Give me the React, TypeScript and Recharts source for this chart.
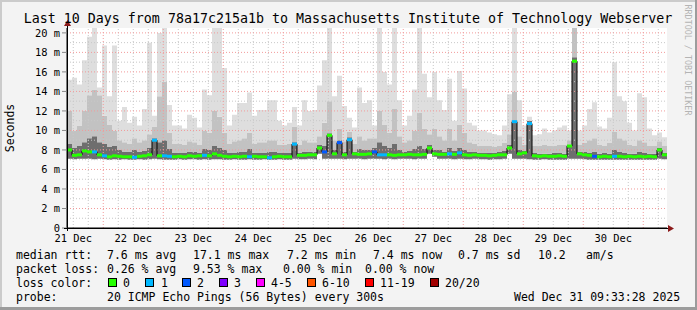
import {
  ComposedChart,
  Area,
  Line,
  Scatter,
  XAxis,
  YAxis,
  CartesianGrid,
  ReferenceLine,
} from "recharts";

// time axis in hours since 21 Dec 00:00, one bucket = 2h
const START_HOUR = 9.5;
const STEP_HOURS = 2;

const dayLabels = ["21 Dec", "22 Dec", "23 Dec", "24 Dec", "25 Dec", "26 Dec", "27 Dec", "28 Dec", "29 Dec", "30 Dec"];
const dayTicks = [12, 36, 60, 84, 108, 132, 156, 180, 204, 228];
const midnights = [24, 48, 72, 96, 120, 144, 168, 192, 216, 240];
const sixHourLines = [12, 18, 30, 36, 42, 54, 60, 66, 78, 84, 90, 102, 108, 114, 126, 132, 138, 150, 156, 162, 174, 180, 186, 198, 204, 210, 222, 228, 234, 246];
const yTicks = [0, 2, 4, 6, 8, 10, 12, 14, 16, 18, 20];
const yMinor = [1, 3, 5, 7, 9, 11, 13, 15, 17, 19];

// smoke: lower edge, dark band top, mid band top, max (ms)
const smokeLow = [
  7.1, 7.05, 7.1, 7.1, 7.1, 7.05, 7.1, 7.05, 7.0, 7.05,
  7.0, 7.05, 7.0, 7.0, 7.05, 7.0, 7.05, 7.1, 7.05, 7.0,
  7.0, 7.0, 7.05, 7.0, 7.05, 7.05, 7.0, 7.05, 7.0, 7.05,
  7.05, 7.0, 7.0, 7.05, 7.0, 7.0, 7.05, 7.0, 7.0, 7.05,
  7.0, 7.0, 7.05, 7.0, 7.0, 7.1, 7.05, 7.05, 7.1, 7.05,
  7.6, 7.1, 7.1, 7.1, 7.1, 7.05, 7.1, 7.1, 7.1, 7.05,
  7.1, 7.1, 7.1, 7.05, 7.1, 7.05, 7.1, 7.1, 7.1, 7.05,
  7.1, 7.1, 7.6, 7.3, 7.1, 7.1, 7.1, 7.05, 7.1, 7.05,
  7.05, 7.1, 7.05, 7.05, 7.0, 7.05, 7.05, 7.1, 7.6, 7.1,
  7.1, 7.1, 7.05, 7.0, 7.0, 7.05, 7.0, 7.0, 7.0, 7.0,
  7.1, 7.1, 7.1, 7.05, 7.0, 7.0, 7.0, 7.0, 7.0, 7.0,
  7.0, 7.0, 7.0, 7.0, 7.0, 7.0, 7.0, 7.0, 7.1, 7.05,
];
const smokeDark = [
  8.6, 8.2, 8.4, 8.8, 9.2, 9.4, 8.8, 8.6, 8.3, 8.4,
  8.0, 7.8, 7.8, 8.0, 7.8, 7.9, 8.2, 9.2, 8.8, 9.0,
  8.1, 7.7, 7.7, 7.7, 7.8, 7.8, 7.7, 8.1, 8.0, 8.4,
  8.2, 8.0, 7.7, 7.7, 7.8, 7.8, 8.1, 7.7, 7.7, 7.7,
  7.8, 7.8, 7.7, 7.7, 7.7, 8.8, 7.7, 7.8, 7.8, 7.8,
  8.5, 8.4, 9.7, 8.0, 9.0, 7.8, 9.3, 7.8, 8.1, 8.0,
  8.0, 8.2, 8.8, 8.4, 8.2, 8.6, 8.0, 7.8, 7.9, 8.1,
  8.4, 8.1, 8.5, 8.0, 8.0, 7.8, 8.2, 7.9, 8.2, 8.0,
  7.8, 7.8, 7.7, 7.7, 7.7, 7.7, 7.8, 7.9, 8.5, 11.0,
  8.0, 7.9, 11.0, 7.7, 7.6, 7.6, 7.6, 7.7, 7.7, 7.6,
  8.5, 17.5, 7.8, 7.8, 7.7, 7.8, 7.6, 7.7, 7.6, 8.0,
  7.8, 7.7, 7.6, 7.6, 7.8, 7.7, 7.6, 7.6, 8.2, 7.7,
];
const smokeMid = [
  12.0, 10.0, 10.5, 12.0, 13.6, 14.2, 13.6, 11.5, 10.6, 10.0,
  9.0, 8.8, 8.6, 9.2, 8.8, 9.0, 9.6, 10.4, 13.5, 15.0,
  9.8, 8.6, 8.6, 8.5, 8.9, 8.8, 8.5, 10.0, 9.8, 12.0,
  11.4, 9.8, 8.6, 8.9, 9.0, 9.2, 9.8, 8.6, 8.8, 8.8,
  9.0, 9.0, 8.5, 8.5, 8.6, 10.4, 8.5, 9.0, 8.8, 8.8,
  9.4, 10.8, 13.0, 9.0, 10.2, 8.9, 9.9, 8.6, 9.4, 9.0,
  9.2, 9.2, 12.0, 10.6, 9.8, 12.2, 9.4, 8.8, 9.0, 10.0,
  11.8, 10.2, 9.6, 10.2, 9.4, 9.0, 10.2, 9.0, 10.6, 9.8,
  8.8, 8.6, 8.4, 8.4, 8.4, 8.3, 8.4, 8.7, 9.6, 14.0,
  9.4, 8.5, 10.8, 8.4, 8.4, 8.5, 8.4, 8.4, 8.5, 8.5,
  9.0, 20.6, 8.5, 8.7, 9.0, 9.2, 8.5, 8.4, 8.7, 9.9,
  9.2, 9.0, 8.5, 8.4, 9.0, 8.8, 8.4, 8.4, 8.9, 8.4,
];
const smokeMax = [
  15.2, 15.4, 14.7, 17.2, 19.6, 20.6, 14.4, 18.7, 13.5, 18.7,
  11.0, 12.4, 10.8, 11.4, 10.5, 12.2, 19.0, 11.5, 20.0, 20.6,
  12.6, 10.5, 10.5, 10.2, 11.6, 11.3, 10.3, 14.2, 13.6, 20.6,
  20.6, 16.4, 10.5, 11.6, 12.8, 12.8, 13.9, 11.5, 12.1, 12.1,
  13.1, 13.1, 11.0, 10.5, 10.8, 12.4, 10.5, 13.1, 12.0, 12.1,
  14.6, 17.2, 20.6, 13.5, 15.6, 12.5, 11.3, 10.3, 14.4, 12.8,
  13.1, 10.5, 20.6, 16.0, 14.7, 20.6, 13.1, 10.5, 11.5, 14.2,
  20.6, 15.8, 13.4, 16.0, 13.1, 12.1, 15.3, 11.0, 16.1, 14.3,
  10.8, 10.5, 10.0, 10.0, 9.8, 9.6, 9.5, 10.5, 13.7, 20.6,
  13.1, 10.5, 11.2, 9.5, 9.6, 10.2, 9.8, 10.0, 10.3, 10.5,
  10.0, 20.6, 10.0, 10.5, 12.2, 12.9, 10.4, 10.2, 11.3, 17.0,
  13.5, 13.0, 10.8, 10.0, 13.8, 13.4, 10.2, 9.5, 9.8, 9.3,
];
const medianRtt = [
  8.0, 7.45, 7.5, 7.9, 7.8, 7.8, 7.5, 7.4, 7.3, 7.4,
  7.35, 7.3, 7.3, 7.25, 7.35, 7.4, 7.5, 9.0, 7.4, 7.4,
  7.35, 7.3, 7.35, 7.3, 7.4, 7.35, 7.4, 7.45, 7.4, 7.6,
  7.45, 7.35, 7.3, 7.35, 7.3, 7.35, 7.3, 7.35, 7.3, 7.3,
  7.2, 7.3, 7.35, 7.3, 7.3, 8.6, 7.45, 7.45, 7.5, 7.5,
  8.2, 7.8, 9.5, 7.6, 8.75, 7.5, 9.05, 7.6, 7.55, 7.55,
  7.6, 7.8, 7.5, 7.5, 7.5, 7.45, 7.5, 7.5, 7.55, 7.5,
  7.5, 7.55, 8.2, 7.6, 7.55, 7.55, 7.6, 7.55, 7.7, 7.5,
  7.45, 7.5, 7.45, 7.45, 7.4, 7.45, 7.5, 7.5, 8.2, 10.9,
  7.6, 7.7, 10.7, 7.4, 7.35, 7.4, 7.35, 7.35, 7.4, 7.35,
  8.4, 17.1, 7.6, 7.5, 7.45, 7.35, 7.3, 7.35, 7.3, 7.35,
  7.35, 7.3, 7.35, 7.3, 7.35, 7.3, 7.35, 7.3, 8.0, 7.5,
];
// index into lossColors
const lossBucket = [
  0, 0, 0, 0, 0, 1, 0, 1, 0, 0, 0, 0, 0, 1, 0, 0, 0, 1, 0, 1,
  1, 0, 0, 0, 0, 0, 0, 1, 0, 0, 0, 0, 0, 0, 0, 0, 1, 0, 0, 0,
  1, 0, 0, 0, 0, 1, 0, 0, 0, 0, 0, 2, 0, 0, 2, 0, 1, 0, 0, 0,
  0, 2, 1, 1, 0, 0, 0, 0, 0, 0, 0, 0, 0, 0, 0, 0, 1, 0, 1, 0,
  0, 0, 0, 0, 0, 0, 0, 0, 0, 1, 0, 0, 1, 0, 0, 0, 0, 0, 0, 0,
  0, 0, 0, 0, 0, 2, 0, 0, 0, 1, 0, 0, 0, 0, 0, 0, 0, 0, 0, 0,
];
const lossColors = ["#26ff00", "#00b8ff", "#0059ff", "#7e00ff", "#ff00ff", "#ff5500", "#ff0000", "#a10000"];
const lossLabels = ["0", "1", "2", "3", "4-5", "6-10", "11-19", "20/20"];

const rows = medianRtt.map((m, i) => ({
  t: START_HOUR + i * STEP_HOURS,
  base: smokeLow[i],
  dark: Math.max(0, smokeDark[i] - smokeLow[i]),
  mid: Math.max(0, smokeMid[i] - smokeDark[i]),
  light: Math.max(0, smokeMax[i] - smokeMid[i]),
  med: m,
}));
// closing row so the last step reaches the right edge
rows.push({ ...rows[rows.length - 1], t: START_HOUR + medianRtt.length * STEP_HOURS });

const medianPts = medianRtt.map((m, i) => ({
  t: START_HOUR + i * STEP_HOURS + STEP_HOURS / 2,
  med: m,
  loss: lossBucket[i],
}));

const MONO = "'DejaVu Sans Mono', monospace";

const MedianSeg = (props: any) => {
  const { cx, cy, payload } = props;
  if (cx == null || cy == null) return null;
  return <rect x={cx - 2.5} y={cy - 1.5} width={5} height={3} fill={lossColors[payload.loss]} />;
};

const legendBoxX = [108, 145, 182, 219, 256, 307, 365, 430];
const legendTextX = [123, 161, 197, 234, 271, 322, 380, 445];

export default function App() {
  return (
    <div style={{ position: "absolute", left: 0, top: 0, width: 697, height: 310, background: "#f3f3f3" }}>
      <ComposedChart
        width={697}
        height={310}
        data={rows}
        margin={{ top: 28, right: 30, bottom: 62, left: 0 }}
      >
        <CartesianGrid fill="#ffffff" horizontal={false} vertical={false} />
        {yMinor.map((v) => (
          <ReferenceLine key={"ym" + v} y={v} stroke="#c8c8c8" strokeDasharray="1 2" />
        ))}
        {sixHourLines.map((v) => (
          <ReferenceLine key={"xm" + v} x={v} stroke="#c8c8c8" strokeDasharray="1 2" />
        ))}
        {yTicks.filter((v) => v > 0).map((v) => (
          <ReferenceLine key={"yM" + v} y={v} stroke="#f29a9a" strokeDasharray="1 2" />
        ))}
        {midnights.map((v) => (
          <ReferenceLine key={"xM" + v} x={v} stroke="#f29a9a" strokeDasharray="1 2" />
        ))}
        <XAxis
          type="number"
          dataKey="t"
          domain={[START_HOUR, START_HOUR + 240]}
          allowDataOverflow
          ticks={dayTicks}
          tickFormatter={(v: number, i: number) => dayLabels[i]}
          interval={0}
          height={20}
          tickLine={false}
          tickSize={5}
          axisLine={{ stroke: "#000" }}
          tick={{ fontFamily: MONO, fontSize: 10.4, fill: "#000" }}
        />
        <YAxis
          type="number"
          domain={[0, 20.5]}
          allowDataOverflow
          ticks={yTicks}
          interval={0}
          width={67}
          tickSize={5}
          tickMargin={2}
          tickFormatter={(v: number) => (v === 0 ? "0" : `${v} m`)}
          tickLine={{ stroke: "#888" }}
          axisLine={{ stroke: "#000" }}
          tick={{ fontFamily: MONO, fontSize: 10.4, fill: "#000" }}
        />
        <Area type="stepAfter" dataKey="base" stackId="s" stroke="none" fill="none" isAnimationActive={false} />
        <Area type="stepAfter" dataKey="dark" stackId="s" stroke="none" fill="#6e6e6e" fillOpacity={1} isAnimationActive={false} />
        <Area type="stepAfter" dataKey="mid" stackId="s" stroke="none" fill="#c2c2c2" fillOpacity={1} isAnimationActive={false} />
        <Area type="stepAfter" dataKey="light" stackId="s" stroke="none" fill="#dedede" fillOpacity={1} isAnimationActive={false} />
        <Line type="stepAfter" dataKey="med" stroke="#000" strokeWidth={1} dot={false} isAnimationActive={false} />
        <Scatter data={medianPts} dataKey="med" shape={MedianSeg} isAnimationActive={false} />
      </ComposedChart>

      <svg width={697} height={310} style={{ position: "absolute", left: 0, top: 0, pointerEvents: "none" }}>
        {/* frame */}
        <rect x={0} y={0} width={697} height={2} fill="#cbcbcb" />
        <rect x={0} y={0} width={2} height={310} fill="#cbcbcb" />
        <rect x={695} y={0} width={2} height={310} fill="#9c9c9c" />
        <rect x={0} y={307} width={697} height={3} fill="#9c9c9c" />

        {/* axis extensions and arrows */}
        <line x1={67.5} y1={22} x2={67.5} y2={231} stroke="#000" />
        <line x1={64} y1={228.5} x2={671} y2={228.5} stroke="#000" />
        <polygon points="64,26 71,26 67.5,20" fill="#8b1a1a" />
        <polygon points="668,225 668,232 674,228.5" fill="#8b1a1a" />

        <text x={348} y={18.5} textAnchor="middle" dominantBaseline="central" fontFamily={MONO} fontSize={13.3} fill="#000">
          Last 10 Days from 78a17c215a1b to Massachusetts Institute of Technology Webserver
        </text>
        <text x={10} y={128} textAnchor="middle" dominantBaseline="central" fontFamily={MONO} fontSize={11.5} fill="#000" transform="rotate(-90 10 128)">
          Seconds
        </text>
        <text x={688} y={60} textAnchor="middle" dominantBaseline="central" fontFamily={MONO} fontSize={8.4} fill="#b4b4b4" transform="rotate(90 688 60)">
          RRDTOOL / TOBI OETIKER
        </text>

        <g fontFamily={MONO} fontSize={11.5} fill="#000" dominantBaseline="central">
          <text x={16} y={254.5}>median rtt:</text>
          <text x={107} y={254.5}>7.6 ms avg</text>
          <text x={193} y={254.5}>17.1 ms max</text>
          <text x={287} y={254.5}>7.2 ms min</text>
          <text x={373} y={254.5}>7.4 ms now</text>
          <text x={458} y={254.5}>0.7 ms sd</text>
          <text x={538} y={254.5}>10.2</text>
          <text x={586} y={254.5}>am/s</text>

          <text x={16} y={268.5}>packet loss:</text>
          <text x={107} y={268.5}>0.26 % avg</text>
          <text x={193} y={268.5}>9.53 % max</text>
          <text x={283} y={268.5}>0.00 % min</text>
          <text x={365} y={268.5}>0.00 % now</text>

          <text x={16} y={282.5}>loss color:</text>
          {lossLabels.map((l, i) => (
            <text key={l} x={legendTextX[i]} y={282.5}>{l}</text>
          ))}

          <text x={16} y={296.5}>probe:</text>
          <text x={107} y={296.5}>20 ICMP Echo Pings (56 Bytes) every 300s</text>
          <text x={514} y={296.5}>Wed Dec 31 09:33:28 2025</text>
        </g>
        {lossColors.map((c, i) => (
          <rect key={c} x={legendBoxX[i] + 0.5} y={278.5} width={8} height={8} fill={c} stroke="#000" />
        ))}
      </svg>
    </div>
  );
}
